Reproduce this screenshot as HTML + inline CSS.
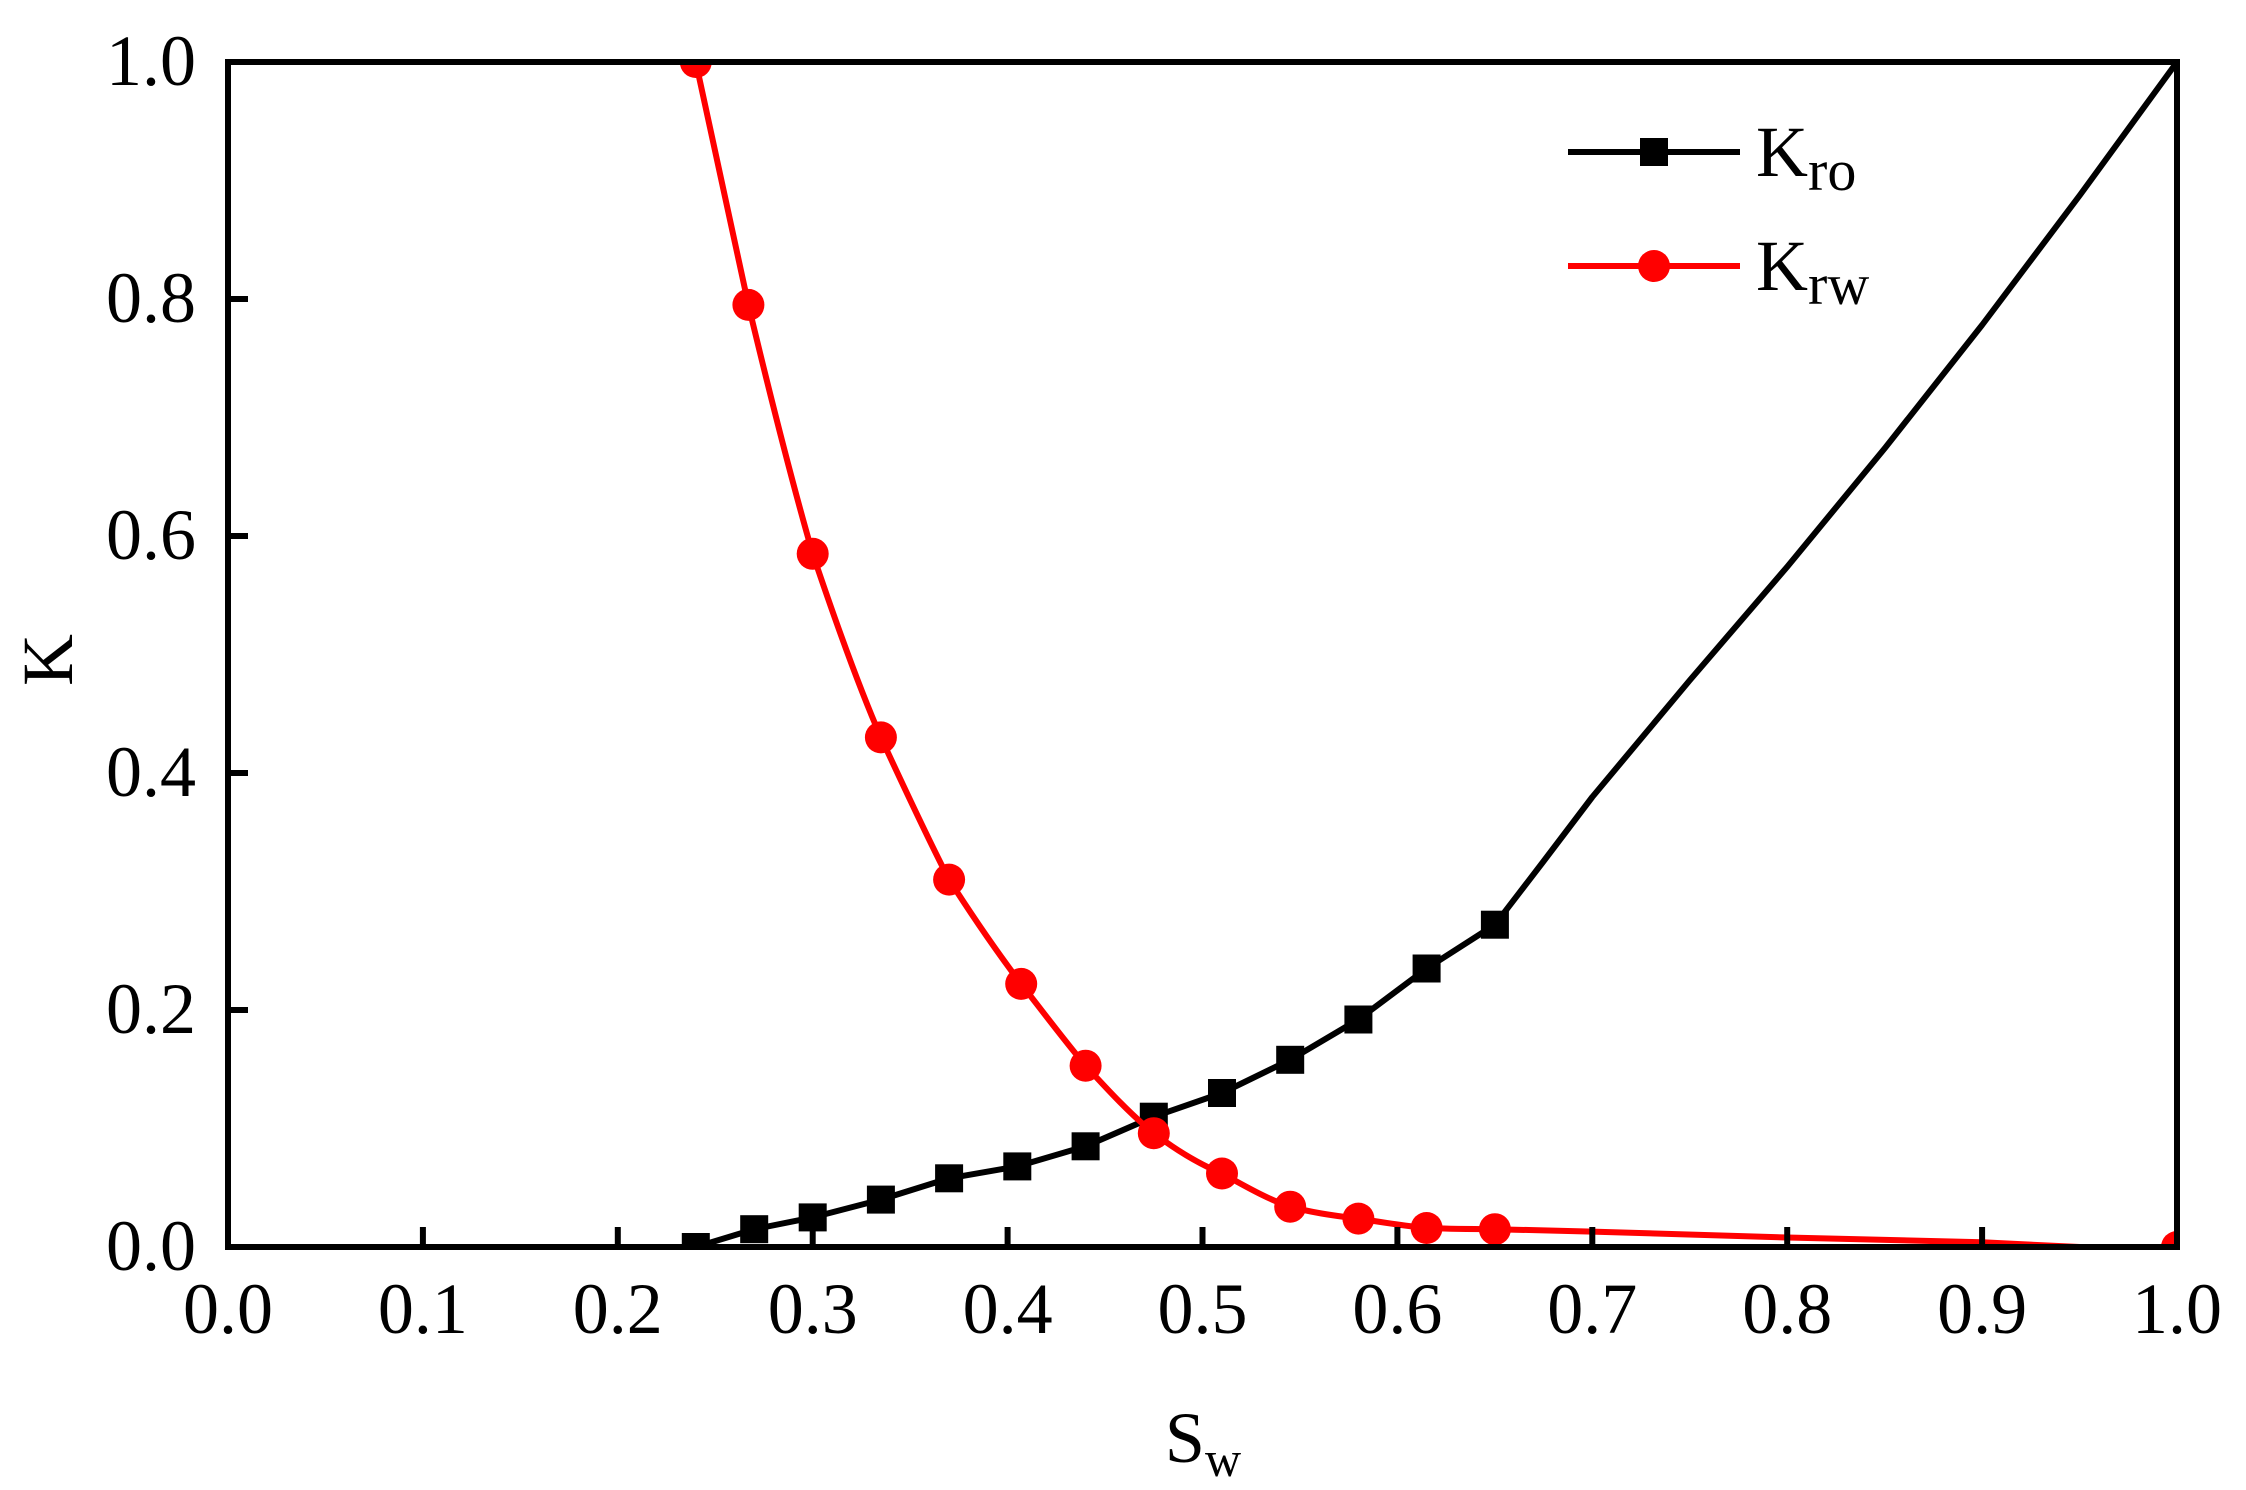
<!DOCTYPE html>
<html><head><meta charset="utf-8"><style>html,body{margin:0;padding:0;background:#fff}svg{display:block}</style></head>
<body>
<svg width="2246" height="1490" viewBox="0 0 2246 1490" xmlns="http://www.w3.org/2000/svg" font-family="'Liberation Serif', 'Times New Roman', serif">
<defs><clipPath id="c"><rect x="228" y="62" width="1949" height="1185"/></clipPath></defs>
<g clip-path="url(#c)">
<polyline fill="none" stroke="#000" stroke-width="6" stroke-linejoin="round" points="695.8,1247 754.2,1229.2 812.7,1217.4 880.9,1199.6 949.1,1178.3 1017.3,1166.4 1085.6,1146.3 1153.8,1116.7 1222,1093 1290.2,1059.8 1358.4,1019.5 1426.6,968.5 1494.9,924.7 1543,862 1592.3,797 1690,680 1787.2,566.8 1885,448 1982.1,325 2080,195 2177,62"/>
<g fill="#000">
<rect x="681.8" y="1233" width="28" height="28"/><rect x="740.2" y="1215.2" width="28" height="28"/><rect x="798.7" y="1203.4" width="28" height="28"/><rect x="866.9" y="1185.6" width="28" height="28"/><rect x="935.1" y="1164.3" width="28" height="28"/><rect x="1003.3" y="1152.4" width="28" height="28"/><rect x="1071.6" y="1132.3" width="28" height="28"/><rect x="1139.8" y="1102.7" width="28" height="28"/><rect x="1208" y="1079" width="28" height="28"/><rect x="1276.2" y="1045.8" width="28" height="28"/><rect x="1344.4" y="1005.5" width="28" height="28"/><rect x="1412.6" y="954.5" width="28" height="28"/><rect x="1480.9" y="910.7" width="28" height="28"/>
</g>
<path fill="none" stroke="#f00" stroke-width="6" stroke-linejoin="round" d="M695.8,62 C715,150 733,235 748.4,304.9 C770,395 790,475 812.7,553.8 C835,620 858,685 880.9,737.4 C903,785 926,835 949.1,879.6 C973,917 997,952 1021.2,983.9 C1043,1012 1064,1040 1085.6,1065.7 C1108,1090 1130,1114 1153.8,1133.2 C1176,1150 1199,1164 1222,1173.5 C1245,1186 1267,1199 1290.2,1206.7 C1313,1213 1335,1216 1358.4,1218.6 C1381,1222 1404,1226 1426.6,1228 C1450,1229 1472,1229 1494.9,1229.2 L1592.3,1231.6 L1787.2,1237.5 L1982.1,1242.3 L2079.6,1247"/>
<g fill="#f00">
<circle cx="695.8" cy="62" r="16"/><circle cx="748.4" cy="304.9" r="16"/><circle cx="812.7" cy="553.8" r="16"/><circle cx="880.9" cy="737.4" r="16"/><circle cx="949.1" cy="879.6" r="16"/><circle cx="1021.2" cy="983.9" r="16"/><circle cx="1085.6" cy="1065.7" r="16"/><circle cx="1153.8" cy="1133.2" r="16"/><circle cx="1222" cy="1173.5" r="16"/><circle cx="1290.2" cy="1206.7" r="16"/><circle cx="1358.4" cy="1218.6" r="16"/><circle cx="1426.6" cy="1228" r="16"/><circle cx="1494.9" cy="1229.2" r="16"/><circle cx="2177" cy="1247" r="16"/>
</g>
</g>
<rect x="228" y="62" width="1949" height="1185" fill="none" stroke="#000" stroke-width="6"/>
<g stroke="#000" stroke-width="6">
<line x1="228" y1="1247" x2="228" y2="1227"/><line x1="422.9" y1="1247" x2="422.9" y2="1227"/><line x1="617.8" y1="1247" x2="617.8" y2="1227"/><line x1="812.7" y1="1247" x2="812.7" y2="1227"/><line x1="1007.6" y1="1247" x2="1007.6" y2="1227"/><line x1="1202.5" y1="1247" x2="1202.5" y2="1227"/><line x1="1397.4" y1="1247" x2="1397.4" y2="1227"/><line x1="1592.3" y1="1247" x2="1592.3" y2="1227"/><line x1="1787.2" y1="1247" x2="1787.2" y2="1227"/><line x1="1982.1" y1="1247" x2="1982.1" y2="1227"/>
<line x1="228" y1="1010" x2="248" y2="1010"/><line x1="228" y1="773" x2="248" y2="773"/><line x1="228" y1="536" x2="248" y2="536"/><line x1="228" y1="299" x2="248" y2="299"/>
</g>
<g font-size="72" text-anchor="middle" fill="#000">
<text x="228" y="1333">0.0</text><text x="422.9" y="1333">0.1</text><text x="617.8" y="1333">0.2</text><text x="812.7" y="1333">0.3</text><text x="1007.6" y="1333">0.4</text><text x="1202.5" y="1333">0.5</text><text x="1397.4" y="1333">0.6</text><text x="1592.3" y="1333">0.7</text><text x="1787.2" y="1333">0.8</text><text x="1982.1" y="1333">0.9</text><text x="2177" y="1333">1.0</text>
</g>
<g font-size="72" text-anchor="end" fill="#000">
<text x="196" y="1270">0.0</text><text x="196" y="1033">0.2</text><text x="196" y="796">0.4</text><text x="196" y="559">0.6</text><text x="196" y="322">0.8</text><text x="196" y="85">1.0</text>
</g>
<text x="1203" y="1462" font-size="72" text-anchor="middle">S<tspan font-size="50" dy="14">w</tspan></text>
<text transform="translate(72,660) rotate(-90)" font-size="72" text-anchor="middle">K</text>
<line x1="1568" y1="152" x2="1740" y2="152" stroke="#000" stroke-width="6"/>
<rect x="1640" y="138" width="28" height="28" fill="#000"/>
<text x="1756" y="176" font-size="72">K<tspan font-size="58" dy="14">ro</tspan></text>
<line x1="1568" y1="266" x2="1740" y2="266" stroke="#f00" stroke-width="6"/>
<circle cx="1654" cy="266" r="16" fill="#f00"/>
<text x="1756" y="290" font-size="72">K<tspan font-size="58" dy="14">rw</tspan></text>
</svg>
</body></html>
